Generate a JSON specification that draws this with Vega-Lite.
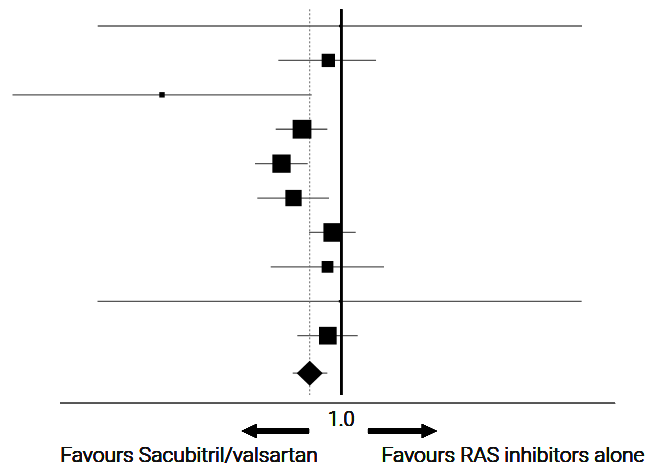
{
  "$schema": "https://vega.github.io/schema/vega-lite/v6.json",
  "width": 656,
  "height": 466,
  "autosize": {"type": "none"},
  "padding": 0,
  "background": "white",
  "config": {"view": {"stroke": null}},
  "data": {
    "values": [
      {"study": "Study 1", "row": 1, "hr": 0.995, "lo": 0.2546, "hi": 3.873, "weight": 0.3, "kind": "study"},
      {"study": "Study 2", "row": 2, "hr": 0.9306, "lo": 0.7026, "hi": 1.2168, "weight": 9.0, "kind": "study"},
      {"study": "Study 3", "row": 3, "hr": 0.3654, "lo": 0.1577, "hi": 0.8477, "weight": 1.5, "kind": "study"},
      {"study": "Study 4", "row": 4, "hr": 0.8027, "lo": 0.6924, "hi": 0.9254, "weight": 17.9, "kind": "study"},
      {"study": "Study 5", "row": 5, "hr": 0.7153, "lo": 0.6163, "hi": 0.8288, "weight": 17.0, "kind": "study"},
      {"study": "Study 6", "row": 6, "hr": 0.7652, "lo": 0.6243, "hi": 0.9343, "weight": 13.5, "kind": "study"},
      {"study": "Study 7", "row": 7, "hr": 0.9539, "lo": 0.8349, "hi": 1.0855, "weight": 17.6, "kind": "study"},
      {"study": "Study 8", "row": 8, "hr": 0.9264, "lo": 0.6732, "hi": 1.2727, "weight": 7.0, "kind": "study"},
      {"study": "Study 9", "row": 9, "hr": 0.9938, "lo": 0.2543, "hi": 3.865, "weight": 0.3, "kind": "study"},
      {"study": "Study 10", "row": 10, "hr": 0.928, "lo": 0.7818, "hi": 1.0978, "weight": 15.9, "kind": "study"},
      {"study": "Overall", "row": 11.09, "hr": 0.8382, "lo": 0.7618, "hi": 0.9254, "weight": 100, "kind": "pooled"}
    ]
  },
  "layer": [
    {
      "mark": {"type": "rule", "color": "#555555", "strokeWidth": 1.3},
      "encoding": {
        "x": {"field": "lo", "type": "quantitative", "scale": {"type": "log", "domain": [0.147, 5.87], "nice": false}, "axis": null},
        "x2": {"field": "hi"},
        "y": {"field": "row", "type": "quantitative", "scale": {"domain": [0.2444, 13.787], "reverse": true, "nice": false, "zero": false}, "axis": null}
      }
    },
    {
      "transform": [{"filter": "datum.kind === 'pooled'"}],
      "mark": {"type": "rule", "color": "#666666", "strokeWidth": 1, "strokeDash": [2, 2]},
      "encoding": {
        "x": {"field": "hr", "type": "quantitative", "scale": {"type": "log", "domain": [0.147, 5.87], "nice": false}, "axis": null},
        "y": {"datum": 0.5147, "type": "quantitative", "scale": {"domain": [0.2444, 13.787], "reverse": true, "nice": false, "zero": false}, "axis": null},
        "y2": {"datum": 11.724}
      }
    },
    {
      "mark": {"type": "rule", "color": "black", "strokeWidth": 2.1},
      "encoding": {
        "x": {"datum": 1, "type": "quantitative", "scale": {"type": "log", "domain": [0.147, 5.87], "nice": false}, "axis": null},
        "y": {"datum": 0.5147, "type": "quantitative", "scale": {"domain": [0.2444, 13.787], "reverse": true, "nice": false, "zero": false}, "axis": null},
        "y2": {"datum": 11.724}
      }
    },
    {
      "transform": [{"filter": "datum.kind === 'study'"}],
      "mark": {"type": "point", "shape": "square", "filled": true, "color": "black", "opacity": 1},
      "encoding": {
        "x": {"field": "hr", "type": "quantitative", "scale": {"type": "log", "domain": [0.147, 5.87], "nice": false}, "axis": null},
        "y": {"field": "row", "type": "quantitative", "scale": {"domain": [0.2444, 13.787], "reverse": true, "nice": false, "zero": false}, "axis": null},
        "size": {"field": "weight", "type": "quantitative", "scale": {"type": "linear", "domain": [0, 100], "range": [0, 1969]}, "legend": null}
      }
    },
    {
      "transform": [{"filter": "datum.kind === 'pooled'"}],
      "mark": {"type": "point", "shape": "M -1 0 L 0 -0.96 L 1 0 L 0 0.96 Z", "filled": true, "color": "black", "opacity": 1, "size": 676},
      "encoding": {
        "x": {"field": "hr", "type": "quantitative", "scale": {"type": "log", "domain": [0.147, 5.87], "nice": false}, "axis": null},
        "y": {"field": "row", "type": "quantitative", "scale": {"domain": [0.2444, 13.787], "reverse": true, "nice": false, "zero": false}, "axis": null}
      }
    },
    {
      "mark": {"type": "rule", "color": "#555555", "strokeWidth": 1.3},
      "encoding": {
        "x": {"datum": 0.206, "type": "quantitative", "scale": {"type": "log", "domain": [0.147, 5.87], "nice": false}, "axis": null},
        "x2": {"datum": 4.663},
        "y": {"datum": 11.965, "type": "quantitative", "scale": {"domain": [0.2444, 13.787], "reverse": true, "nice": false, "zero": false}, "axis": null}
      }
    },
    {
      "mark": {"type": "text", "text": "1.0", "font": "Roboto", "fontSize": 20, "fontWeight": 300, "align": "center", "baseline": "alphabetic", "fill": "#111111"},
      "encoding": {
        "x": {"datum": 1, "type": "quantitative", "scale": {"type": "log", "domain": [0.147, 5.87], "nice": false}, "axis": null},
        "y": {"datum": 12.625, "type": "quantitative", "scale": {"domain": [0.2444, 13.787], "reverse": true, "nice": false, "zero": false}, "axis": null}
      }
    },
    {
      "mark": {"type": "rule", "color": "black", "strokeWidth": 5.5},
      "encoding": {
        "x": {"datum": 0.6198, "type": "quantitative", "scale": {"type": "log", "domain": [0.147, 5.87], "nice": false}, "axis": null},
        "x2": {"datum": 0.835},
        "y": {"datum": 12.77, "type": "quantitative", "scale": {"domain": [0.2444, 13.787], "reverse": true, "nice": false, "zero": false}, "axis": null}
      }
    },
    {
      "mark": {"type": "rule", "color": "black", "strokeWidth": 5.5},
      "encoding": {
        "x": {"datum": 1.163, "type": "quantitative", "scale": {"type": "log", "domain": [0.147, 5.87], "nice": false}, "axis": null},
        "x2": {"datum": 1.576},
        "y": {"datum": 12.77, "type": "quantitative", "scale": {"domain": [0.2444, 13.787], "reverse": true, "nice": false, "zero": false}, "axis": null}
      }
    },
    {
      "mark": {"type": "point", "shape": "M -1 0 L 1 -0.93 L 1 0.93 Z", "filled": true, "color": "black", "opacity": 1, "size": 225},
      "encoding": {
        "x": {"datum": 0.5966, "type": "quantitative", "scale": {"type": "log", "domain": [0.147, 5.87], "nice": false}, "axis": null},
        "y": {"datum": 12.77, "type": "quantitative", "scale": {"domain": [0.2444, 13.787], "reverse": true, "nice": false, "zero": false}, "axis": null}
      }
    },
    {
      "mark": {"type": "point", "shape": "M 1 0 L -1 -0.93 L -1 0.93 Z", "filled": true, "color": "black", "opacity": 1, "size": 225},
      "encoding": {
        "x": {"datum": 1.642, "type": "quantitative", "scale": {"type": "log", "domain": [0.147, 5.87], "nice": false}, "axis": null},
        "y": {"datum": 12.77, "type": "quantitative", "scale": {"domain": [0.2444, 13.787], "reverse": true, "nice": false, "zero": false}, "axis": null}
      }
    },
    {
      "mark": {"type": "text", "text": "Favours Sacubitril/valsartan", "font": "Roboto", "fontSize": 21, "fontWeight": 300, "align": "center", "baseline": "alphabetic", "fill": "#111111"},
      "encoding": {
        "x": {"datum": 0.4253, "type": "quantitative", "scale": {"type": "log", "domain": [0.147, 5.87], "nice": false}, "axis": null},
        "y": {"datum": 13.68, "type": "quantitative", "scale": {"domain": [0.2444, 13.787], "reverse": true, "nice": false, "zero": false}, "axis": null}
      }
    },
    {
      "mark": {"type": "text", "text": "Favours RAS inhibitors alone", "font": "Roboto", "fontSize": 21, "fontWeight": 300, "align": "center", "baseline": "alphabetic", "fill": "#111111"},
      "encoding": {
        "x": {"datum": 2.628, "type": "quantitative", "scale": {"type": "log", "domain": [0.147, 5.87], "nice": false}, "axis": null},
        "y": {"datum": 13.68, "type": "quantitative", "scale": {"domain": [0.2444, 13.787], "reverse": true, "nice": false, "zero": false}, "axis": null}
      }
    }
  ]
}
